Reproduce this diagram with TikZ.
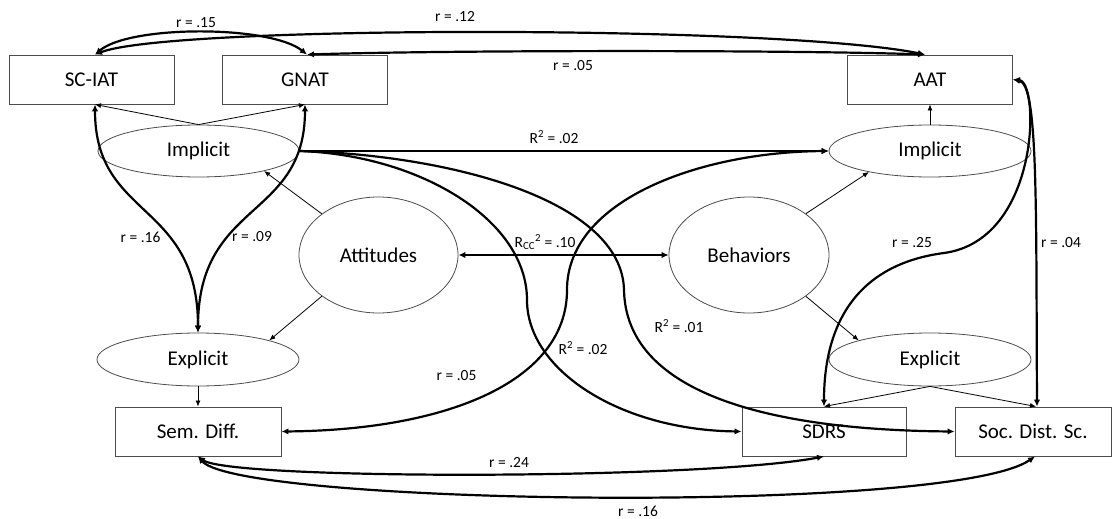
\documentclass[tikz,border=0pt]{standalone}
\usepackage{fontspec}
\setmainfont{Carlito}
\usetikzlibrary{shapes.geometric,arrows.meta}
\begin{document}
\begin{tikzpicture}[x=1pt,y=-1pt,
  box/.style={draw=black!70,line width=0.9pt,minimum height=49pt,inner sep=0pt,font=\fontsize{21}{25}\selectfont},
  lat/.style={ellipse,draw=black!70,line width=0.8pt,inner sep=0pt,font=\fontsize{21}{25}\selectfont},
  tarr/.style={line width=0.8pt,-{Latex[length=6pt,width=5pt]}},
  dbl/.style={line width=2.2pt,{Latex[length=7pt,width=6.5pt]}-{Latex[length=7pt,width=6.5pt]}},
  sgl/.style={line width=2.2pt,-{Latex[length=7pt,width=6.5pt]}},
  lab/.style={font=\fontsize{15.5}{18}\selectfont,inner sep=0pt}]
\useasboundingbox (0,0) rectangle (1112,519);
% boxes
\node[box,minimum width=165pt] (sc) at (91.5,79.5) {SC-IAT};
\node[box,minimum width=165pt] (gn) at (305,79.5) {GNAT};
\node[box,minimum width=165pt] (aat) at (930,79.5) {AAT};
\node[box,minimum width=166pt] (sd) at (198,431.5) {Sem. Diff.};
\node[box,minimum width=164pt] (sdrs) at (824,431.5) {SDRS};
\node[box,minimum width=156pt] (soc) at (1033,431.5) {Soc. Dist. Sc.};
% latent
\node[lat,minimum width=201pt,minimum height=52pt] (il) at (198.5,151) {Implicit};
\node[lat,minimum width=202pt,minimum height=52pt] (ir) at (930,151) {Implicit};
\node[lat,minimum width=159pt,minimum height=116pt] (att) at (378.5,255) {Attitudes};
\node[lat,minimum width=160pt,minimum height=116pt] (beh) at (749,255) {Behaviors};
\node[lat,minimum width=202pt,minimum height=53pt] (el) at (198,359.5) {Explicit};
\node[lat,minimum width=202pt,minimum height=53pt] (er) at (930,359.5) {Explicit};
% thin arrows
\draw[tarr] (il.north) -- ([xshift=3.5pt]sc.south);
\draw[tarr] (il.north) -- (gn.south);
\draw[tarr] (att.144) -- (il.-17);
\draw[tarr] (att.216) -- (el.15);
\draw[tarr] (beh.36) -- (ir.199);
\draw[tarr] (beh.-36) -- (er.165);
\draw[tarr] (ir.north) -- (aat.south);
\draw[tarr] (el.south) -- (sd.north);
\draw[tarr] (er.south) -- (sdrs.north);
\draw[tarr] (er.south) -- ([xshift=3pt]soc.north);
% structural
\draw[sgl] (il.east) -- (ir.west);
\draw[dbl] (att.east) -- (beh.west);
\draw[sgl] (il.east) .. controls (420,155) and (527,220) .. (527,300) .. controls (527,370) and (620,430) .. (sdrs.west);
\draw[sgl] (il.east) .. controls (450,155) and (622,200) .. (624,290) .. controls (626,390) and (760,430) .. (soc.west);
% correlations
\draw[dbl] ([xshift=3.5pt]sc.north) .. controls (130,25) and (270,25) .. ([xshift=2pt]gn.north);
\draw[dbl] ([xshift=3.5pt]sc.north) .. controls (170,25) and (780,25) .. ([xshift=-5pt]aat.north);
\draw[dbl] ([xshift=2pt]gn.north) .. controls (450,50) and (800,50) .. ([xshift=-5pt]aat.north);
\draw[dbl] ([xshift=3.5pt]sc.south) .. controls (95,220) and (198,200) .. (el.north);
\draw[dbl] (gn.south) .. controls (305,220) and (198,200) .. (el.north);
\draw[dbl] (sd.east) .. controls (450,430) and (567,380) .. (567,290) .. controls (567,200) and (700,152) .. (ir.west);
\draw[dbl] (aat.east) .. controls (1040,82) and (1040,240) .. (944,253) .. controls (860,264) and (824,320) .. (sdrs.north);
\draw[dbl] (aat.east) .. controls (1038,84) and (1036,200) .. ([xshift=4pt]soc.north);
\draw[dbl] (sd.south) .. controls (230,480) and (700,480) .. (sdrs.south);
\draw[dbl] (sd.south) .. controls (240,505) and (950,515) .. ([xshift=2pt]soc.south);
% labels
\node[lab] (l1) at (196,23) {r = .15};
\node[lab] (l2) at (455,17) {r = .12};
\node[lab] (l3) at (573,66) {r = .05};
\node[lab] (l4) at (554,137) {R\textsuperscript{2} = .02};
\node[lab] (l5) at (545,242) {R\textsubscript{CC}\textsuperscript{2} = .10};
\node[lab] (l6) at (140.5,237) {r = .16};
\node[lab] (l7) at (252,237) {r = .09};
\node[lab] (l8) at (456.5,376) {r = .05};
\node[lab] (l9) at (509,463) {r = .24};
\node[lab] (l10) at (583,348) {R\textsuperscript{2} = .02};
\node[lab] (l11) at (679,326) {R\textsuperscript{2} = .01};
\node[lab] (l12) at (912,243) {r = .25};
\node[lab] (l13) at (1061,243) {r = .04};
\node[lab] (l14) at (638,511) {r = .16};
\end{tikzpicture}
\end{document}
